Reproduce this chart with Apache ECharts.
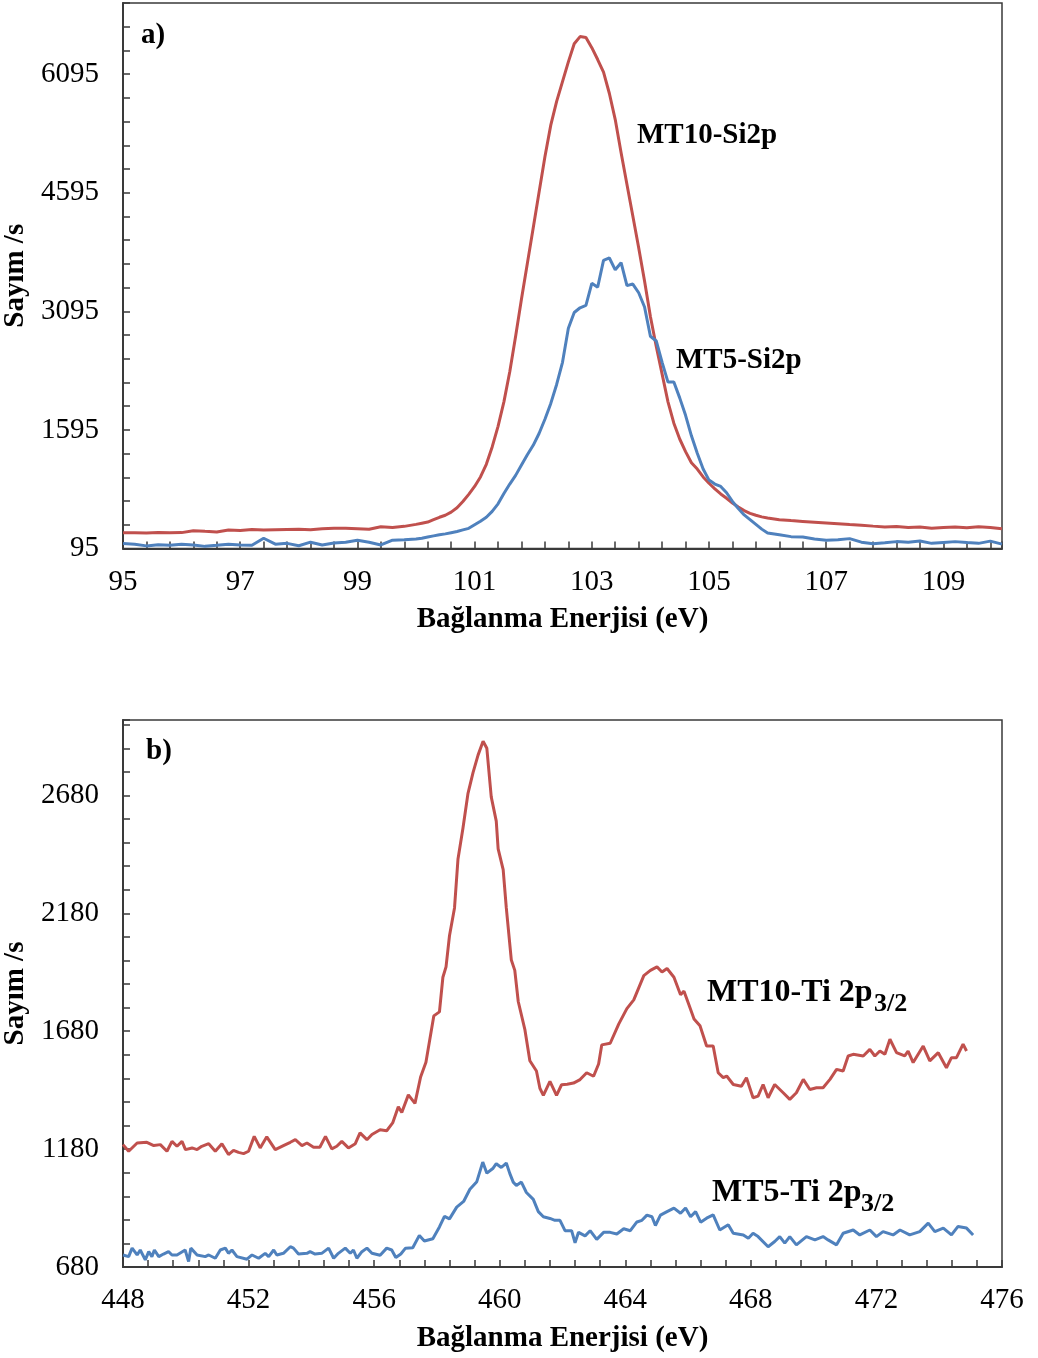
<!DOCTYPE html>
<html>
<head>
<meta charset="utf-8">
<script src="https://cdn.jsdelivr.net/npm/echarts@6/dist/echarts.min.js"></script>
<style>
html,body{margin:0;padding:0;background:#fff;}
#chart{width:1038px;height:1358px;}
</style>
</head>
<body>
<div id="chart"></div>
<script>
// ---------- Panel a) Si2p ----------
const siEnergy = [95.0,95.2,95.4,95.6,95.8,96.0,96.2,96.4,96.6,96.8,97.0,97.2,97.4,97.6,97.8,98.0,98.2,98.4,98.6,98.8,99.0,99.2,99.4,99.6,99.8,
  100.0,100.1,100.2,100.3,100.4,100.5,100.6,100.7,100.8,100.9,
  101.0,101.1,101.2,101.3,101.4,101.5,101.6,101.7,101.8,101.9,
  102.0,102.1,102.2,102.3,102.4,102.5,102.6,102.7,102.8,102.9,
  103.0,103.1,103.2,103.3,103.4,103.5,103.6,103.7,103.8,103.9,
  104.0,104.1,104.2,104.3,104.4,104.5,104.6,104.7,104.8,104.9,
  105.0,105.1,105.2,105.3,105.4,105.5,105.6,105.7,105.8,105.9,
  106.0,106.2,106.4,106.6,106.8,107.0,107.2,107.4,107.6,107.8,108.0,108.2,108.4,108.6,108.8,109.0,109.2,109.4,109.6,109.8,110.0];
const mt10Si = [295,295,292,298,294,296,320,312,305,330,322,335,328,332,336,338,332,345,350,352,345,338,370,362,375,
  400,415,430,460,490,515,555,610,690,780,
  880,1000,1160,1380,1640,1950,2330,2780,3250,3700,
  4150,4600,5050,5450,5750,6000,6250,6480,6570,6560,
  6430,6280,6120,5850,5520,5100,4700,4300,3900,3480,
  3030,2650,2300,1950,1680,1480,1320,1180,1100,1000,
  920,850,785,730,670,620,575,540,515,495,
  480,460,448,438,428,418,408,398,390,378,368,372,362,366,350,360,366,358,370,362,345];
const mt5Si = [158,150,128,142,135,150,140,122,135,150,140,135,225,150,160,130,175,140,165,175,200,175,140,200,205,
  215,225,240,255,270,280,295,310,330,350,
  395,440,490,565,660,790,910,1020,1150,1280,
  1400,1550,1730,1930,2170,2450,2880,3080,3140,3170,
  3450,3400,3740,3770,3620,3710,3420,3440,3330,3150,
  2780,2720,2450,2200,2200,2000,1780,1520,1300,1100,
  960,910,880,800,690,600,520,460,400,340,
  290,270,245,240,215,200,205,220,175,155,168,182,175,190,160,172,182,170,160,188,150];
const siXTicks = [95,97,99,101,103,105,107,109];
const siYTicks = [95,1595,3095,4595,6095];

// ---------- Panel b) Ti 2p3/2 ----------
const mt10TiE = [448.0,448.18,448.45,448.76,448.98,449.19,449.4,449.56,449.72,449.88,449.99,450.2,450.36,450.51,450.73,450.94,451.15,451.36,451.52,451.68,451.84,452.0,452.18,452.37,452.58,452.85,453.11,453.33,453.49,453.7,453.86,454.07,454.27,454.45,454.65,454.81,454.97,455.18,455.4,455.55,455.77,455.93,456.19,456.4,456.59,456.77,456.88,457.09,457.3,457.48,457.65,457.9,458.08,458.19,458.29,458.4,458.56,458.67,458.83,458.99,459.15,459.31,459.47,459.59,459.73,459.89,459.95,460.11,460.21,460.37,460.48,460.59,460.8,460.96,461.17,461.28,461.39,461.6,461.81,461.97,462.15,462.35,462.56,462.77,462.99,463.15,463.25,463.52,463.79,464.05,464.27,464.59,464.8,465.01,465.17,465.33,465.55,465.76,465.87,466.03,466.19,466.38,466.59,466.8,466.96,467.12,467.23,467.44,467.7,467.86,468.07,468.23,468.39,468.55,468.76,469.03,469.24,469.45,469.67,469.88,470.09,470.3,470.52,470.73,470.94,471.1,471.26,471.58,471.79,471.95,472.11,472.27,472.43,472.64,472.9,473.01,473.17,473.49,473.7,473.97,474.23,474.39,474.55,474.76,474.87];
const mt10Ti = [1199,1171,1206,1209,1195,1199,1171,1213,1192,1213,1178,1185,1178,1192,1203,1171,1203,1157,1175,1166,1161,1171,1234,1185,1232,1178,1195,1209,1220,1195,1206,1188,1188,1234,1181,1192,1213,1185,1203,1249,1220,1242,1262,1258,1291,1360,1335,1410,1374,1486,1548,1745,1762,1909,1953,2085,2203,2409,2542,2689,2777,2851,2910,2880,2674,2571,2453,2365,2203,1982,1938,1806,1688,1555,1511,1438,1408,1467,1408,1453,1455,1460,1475,1504,1489,1541,1622,1629,1710,1776,1813,1916,1938,1953,1931,1946,1909,1835,1850,1791,1732,1703,1617,1617,1504,1483,1490,1454,1447,1483,1398,1405,1454,1398,1454,1419,1391,1419,1476,1433,1440,1440,1476,1518,1511,1575,1582,1575,1603,1575,1596,1582,1646,1589,1575,1596,1547,1617,1554,1589,1525,1568,1568,1625,1596];
const mt5TiE = [448.0,448.18,448.29,448.45,448.55,448.71,448.82,448.92,449.0,449.14,449.29,449.45,449.56,449.72,449.98,450.09,450.16,450.36,450.62,450.73,450.94,451.1,451.26,451.36,451.47,451.63,451.95,452.11,452.32,452.53,452.64,452.8,452.9,453.11,453.33,453.43,453.59,453.86,453.96,454.12,454.33,454.55,454.71,454.86,455.08,455.24,455.34,455.45,455.61,455.77,455.93,456.19,456.4,456.56,456.69,456.85,457.0,457.23,457.44,457.6,457.87,458.08,458.24,458.4,458.63,458.85,459.05,459.27,459.46,459.59,459.79,459.89,460.05,460.21,460.32,460.43,460.53,460.69,460.85,461.07,461.23,461.39,461.6,461.76,461.92,462.08,462.29,462.4,462.51,462.72,462.88,463.09,463.31,463.52,463.73,463.95,464.16,464.37,464.53,464.69,464.85,464.96,465.12,465.33,465.55,465.76,465.92,466.08,466.24,466.4,466.59,466.8,467.01,467.28,467.44,467.76,467.92,468.07,468.23,468.55,468.76,468.92,469.08,469.24,469.45,469.77,470.04,470.3,470.46,470.73,470.94,471.26,471.47,471.79,472.0,472.21,472.53,472.75,473.06,473.38,473.65,473.86,474.13,474.39,474.6,474.87,475.08];
const mt5Ti = [731,724,760,731,752,710,745,724,752,724,735,745,731,731,752,703,760,731,724,731,717,752,760,738,752,724,713,731,717,738,724,752,731,738,766,760,735,738,745,735,738,760,717,738,760,738,752,717,745,760,738,730,760,752,720,735,760,762,814,790,800,850,895,884,934,958,1010,1042,1125,1078,1099,1118,1102,1121,1077,1040,1026,1040,996,967,915,893,886,878,878,834,834,783,827,812,834,797,827,827,820,842,834,871,878,900,893,856,900,915,930,908,930,893,915,870,887,901,837,859,823,816,802,823,809,766,788,809,781,809,774,809,795,809,795,774,823,837,816,837,809,830,816,837,816,830,866,830,845,816,852,845,816];
const tiXTicks = [448,452,456,460,464,468,472,476];
const tiYTicks = [680,1180,1680,2180,2680];

// ---------- build ----------
const SERIF = '"Liberation Serif","Times New Roman",Times,serif';
const RED = '#C0504D', BLUE = '#4F81BD', AX = '#3a3a3a';
const pair = (xs, ys) => xs.map((x, i) => [x, ys[i]]);
const inList = (list) => (v) => list.some(t => Math.abs(t - v) < 1e-6) ? String(Math.round(v)) : '';

function xAx(grid, min, max, step, ticks) {
  return {
    gridIndex: grid, type: 'value', min: min, max: max, interval: step,
    axisLine: {show: true, onZero: false, lineStyle: {color: AX, width: 2}},
    axisTick: {show: true, inside: true, length: 7, lineStyle: {color: AX, width: 1.5}},
    axisLabel: {formatter: inList(ticks), margin: 19, fontFamily: SERIF, fontSize: 29, color: '#000'},
    splitLine: {show: false},
    name: 'Bağlanma Enerjisi (eV)', nameLocation: 'middle', nameGap: 57,
    nameTextStyle: {fontFamily: SERIF, fontWeight: 'bold', fontSize: 29, color: '#000'}
  };
}
function yAx(grid, min, max, step, ticks) {
  return {
    gridIndex: grid, type: 'value', min: min, max: max, interval: step,
    axisLine: {show: true, onZero: false, lineStyle: {color: AX, width: 2}},
    axisTick: {show: true, inside: true, length: 7, lineStyle: {color: AX, width: 1.5}},
    axisLabel: {formatter: inList(ticks), margin: 24, fontFamily: SERIF, fontSize: 29, color: '#000'},
    splitLine: {show: false},
    name: 'Sayım /s', nameLocation: 'middle', nameGap: 86,
    nameTextStyle: {fontFamily: SERIF, fontWeight: 'bold', fontSize: 29, color: '#000'}
  };
}
function line(name, data, color, gi) {
  return {name: name, type: 'line', xAxisIndex: gi, yAxisIndex: gi, data: data,
    showSymbol: false, symbol: 'none', smooth: false, animation: false,
    lineStyle: {color: color, width: 3}, itemStyle: {color: color}, z: 3};
}
function txt(x, y, s, size) {
  return {type: 'text', x: x, y: y, z: 10,
    style: {text: s, fontFamily: SERIF, fontWeight: 'bold', fontSize: size, fill: '#000',
      align: 'left', verticalAlign: 'middle'}};
}

const chart = echarts.init(document.getElementById('chart'), null, {renderer: 'canvas'});
chart.setOption({
  animation: false,
  backgroundColor: '#fff',
  grid: [
    {left: 123, top: 3, width: 879, height: 545.5, show: true, borderColor: AX, borderWidth: 1.5, containLabel: false, outerBoundsMode: 'none'},
    {left: 123, top: 720, width: 879, height: 547, show: true, borderColor: AX, borderWidth: 1.5, containLabel: false, outerBoundsMode: 'none'}
  ],
  xAxis: [xAx(0, 95, 110, 0.4, siXTicks), xAx(1, 448, 476, 0.8, tiXTicks)],
  yAxis: [yAx(0, 95, 6995, 300, siYTicks), yAx(1, 680, 3000, 100, tiYTicks)],
  series: [
    line('MT10-Si2p', pair(siEnergy, mt10Si), RED, 0),
    line('MT5-Si2p', pair(siEnergy, mt5Si), BLUE, 0),
    line('MT10-Ti 2p3/2', pair(mt10TiE, mt10Ti), RED, 1),
    line('MT5-Ti 2p3/2', pair(mt5TiE, mt5Ti), BLUE, 1)
  ],
  graphic: [
    txt(141, 36, 'a)', 29),
    txt(637, 136, 'MT10-Si2p', 29),
    txt(676, 361, 'MT5-Si2p', 29),
    txt(146, 752, 'b)', 29),
    txt(707, 993, 'MT10-Ti 2p', 32),
    txt(874, 1004, '3/2', 26),
    txt(712, 1193, 'MT5-Ti 2p', 32),
    txt(861, 1204, '3/2', 26)
  ]
});
</script>
</body>
</html>
